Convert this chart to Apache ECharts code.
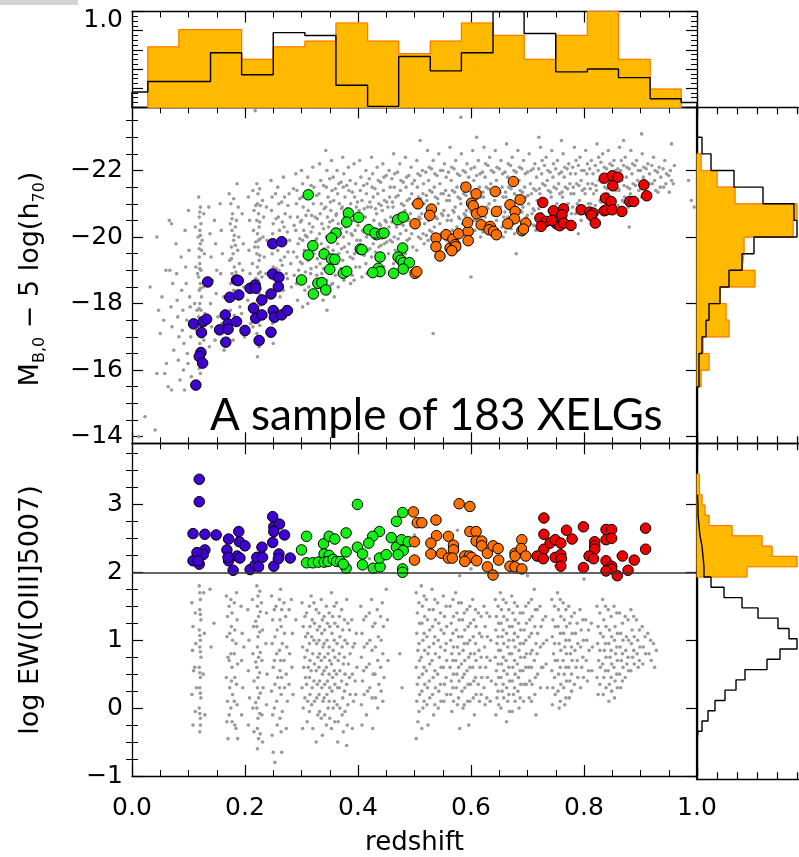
<!DOCTYPE html>
<html>
<head>
<meta charset="utf-8">
<script src="https://cdn.jsdelivr.net/npm/echarts@6/dist/echarts.min.js"></script>
<style>
html, body { margin: 0; padding: 0; background: #fff; }
#chart { width: 799px; height: 857px; }
</style>
</head>
<body>
<div id="chart"></div>
<script>
// ---- histograms (normalised to peak = 1) ----
var zEdges = [0, 0.028, 0.083, 0.139, 0.194, 0.25, 0.306, 0.361, 0.417, 0.472, 0.528, 0.583, 0.639, 0.694, 0.75, 0.806, 0.861, 0.917, 0.972, 1.0];
var zHistAll = [0.16, 0.27, 0.27, 0.57, 0.34, 0.78, 0.75, 0.23, 0.01, 0.53, 0.38, 0.57, 1.0, 0.77, 0.37, 0.40, 0.31, 0.09, 0.05];
var zEdgesX = [0.028, 0.083, 0.139, 0.194, 0.25, 0.306, 0.361, 0.417, 0.472, 0.528, 0.583, 0.639, 0.694, 0.75, 0.806, 0.861, 0.917, 0.972];
var zHistXelg = [0.63, 0.81, 0.81, 0.50, 0.63, 0.69, 0.88, 0.69, 0.56, 0.69, 0.88, 0.75, 0.50, 0.75, 1.0, 0.50, 0.19];

var mEdges = [-23, -22.5, -22, -21.5, -21, -20.5, -20, -19.5, -19, -18.5, -18, -17.5, -17, -16.5, -16, -15.5];
var mHistAll = [0.05, 0.14, 0.37, 0.66, 0.97, 1.0, 0.57, 0.45, 0.32, 0.23, 0.12, 0.09, 0.05, 0.02, 0.02];
var mEdgesX = [-22.5, -22, -21.5, -21, -20.5, -20, -19.5, -19, -18.5, -18, -17.5, -17, -16.5, -16, -15.5];
var mHistXelg = [0.04, 0.20, 0.38, 1.0, 0.96, 0.47, 0.45, 0.58, 0.23, 0.29, 0.32, 0.06, 0.12, 0.04];

var ewEdges = [-0.45, -0.3, -0.15, 0, 0.15, 0.3, 0.45, 0.6, 0.75, 0.9, 1.05, 1.2, 1.35, 1.5, 1.65, 1.8, 1.95, 2.1, 2.25, 2.4, 2.55, 2.7, 2.85, 3.0, 3.15];
var ewHistAll = [0.01, 0.05, 0.11, 0.18, 0.28, 0.39, 0.48, 0.70, 0.83, 1.0, 0.92, 0.81, 0.61, 0.45, 0.27, 0.14, 0.07, 0.06, 0.05, 0.03, 0.02, 0.01, 0.01, 0.005];
var ewEdgesX = [1.95, 2.1, 2.25, 2.4, 2.55, 2.7, 2.85, 3.0, 3.15, 3.3, 3.45];
var ewHistXelg = [0.50, 1.0, 0.75, 0.65, 0.35, 0.12, 0.08, 0.05, 0.025, 0.025];

// ---- axis ticks ----
var mMajor = [-22, -20, -18, -16, -14];
var mMinor = [-23.5, -23, -22.5, -21.5, -21, -20.5, -19.5, -19, -18.5, -17.5, -17, -16.5, -15.5, -15, -14.5];
var ewMajor = [-1, 0, 1, 2, 3];
var ewMinor = [-0.75, -0.5, -0.25, 0.25, 0.5, 0.75, 1.25, 1.5, 1.75, 2.25, 2.5, 2.75, 3.25, 3.5, 3.75];

// ---- parent sample (grey), redshift vs absolute magnitude ----
var greyMag = [
[0.012,-14.0],[0.023,-14.6],[0.041,-14.2],[0.032,-18.5],[0.044,-20.0],[0.047,-17.8],[0.05,-17.1],[0.044,-15.9],[0.061,-16.2],[0.058,-15.9],[0.064,-15.5],[0.056,-17.5],[0.053,-18.2],[0.06,-19.0],
[0.066,-20.5],[0.07,-20.4],[0.067,-19.0],[0.072,-18.6],[0.069,-17.9],[0.071,-17.3],[0.074,-16.6],[0.07,-15.4],[0.078,-19.8],[0.079,-18.9],[0.08,-18.1],[0.081,-17.6],[0.083,-17.0],[0.082,-16.3],[0.085,-15.7],[0.087,-19.4],[0.088,-18.4],[0.09,-17.8],[0.089,-17.2],[0.092,-16.8],[0.091,-16.0],[0.094,-20.2],[0.095,-19.1],[0.096,-18.6],[0.097,-17.5],[0.098,-16.5],[0.1,-20.8],[0.101,-19.6],[0.102,-18.2],[0.103,-17.9],[0.104,-17.0],[0.105,-15.8],[0.099,-16.2],[0.093,-15.4],
[0.118,-21.2],[0.121,-20.9],[0.119,-20.6],[0.122,-20.4],[0.12,-20.2],[0.117,-20.0],[0.121,-19.8],[0.123,-19.6],[0.119,-19.4],[0.12,-19.2],[0.122,-19.0],[0.118,-18.8],[0.121,-18.6],[0.119,-18.4],[0.123,-18.2],[0.12,-18.0],[0.122,-17.8],[0.118,-17.6],[0.121,-17.4],[0.119,-17.2],[0.123,-17.0],[0.12,-16.8],[0.122,-16.5],[0.118,-16.2],[0.121,-15.9],[0.112,-20.3],[0.113,-19.1],[0.111,-18.0],[0.114,-17.2],[0.127,-20.7],[0.128,-19.5],[0.126,-18.5],[0.129,-17.7],[0.127,-16.9],
[0.136,-20.9],[0.138,-20.1],[0.14,-19.4],[0.142,-18.7],[0.139,-18.0],[0.141,-17.3],[0.137,-16.7],[0.146,-20.5],[0.148,-19.8],[0.15,-19.0],[0.149,-18.3],[0.152,-17.6],[0.147,-16.9],[0.156,-21.0],[0.158,-20.2],[0.16,-19.5],[0.157,-18.9],[0.162,-18.2],[0.159,-17.4],[0.163,-16.6],
[0.172,-21.3],[0.175,-21.0],[0.178,-20.7],[0.174,-20.4],[0.177,-20.2],[0.18,-19.9],[0.176,-19.7],[0.179,-19.5],[0.173,-19.3],[0.181,-19.1],[0.177,-18.9],[0.175,-18.6],[0.18,-18.4],[0.178,-18.1],[0.174,-17.8],[0.182,-17.5],[0.176,-17.2],[0.179,-16.9],[0.186,-21.6],[0.188,-20.9],[0.185,-20.5],[0.189,-20.0],[0.187,-19.6],[0.19,-19.2],[0.186,-18.8],[0.188,-18.3],[0.191,-17.9],[0.187,-17.4],[0.195,-20.7],[0.197,-19.8],[0.196,-19.0],[0.198,-18.5],[0.194,-17.7],[0.199,-17.0],
[0.206,-21.2],[0.208,-20.5],[0.207,-19.6],[0.209,-18.9],[0.205,-18.1],[0.21,-17.4],[0.214,-21.4],[0.216,-20.8],[0.215,-20.2],[0.217,-19.7],[0.213,-19.2],[0.218,-18.6],[0.216,-18.0],[0.214,-17.3],[0.221,-21.6],[0.223,-21.3],[0.222,-21.0],[0.224,-20.7],[0.221,-20.5],[0.225,-20.3],[0.222,-20.1],[0.224,-19.9],[0.223,-19.7],[0.221,-19.5],[0.225,-19.3],[0.222,-19.1],[0.224,-18.9],[0.223,-18.7],[0.221,-18.5],[0.225,-18.3],[0.222,-18.1],[0.224,-17.8],[0.223,-17.5],[0.221,-17.1],[0.225,-16.7],[0.222,-16.4],[0.231,-21.1],[0.233,-20.6],[0.232,-20.0],[0.234,-19.4],[0.23,-18.8],[0.235,-18.2],[0.231,-17.6],[0.238,-20.9],[0.239,-19.9],[0.237,-18.9],
[0.246,-21.7],[0.248,-21.2],[0.247,-20.8],[0.25,-20.4],[0.249,-20.1],[0.251,-19.8],[0.248,-19.5],[0.25,-19.1],[0.252,-18.7],[0.247,-18.3],[0.251,-17.9],[0.249,-17.4],[0.25,-16.8],[0.258,-21.5],[0.26,-21.0],[0.259,-20.6],[0.261,-20.2],[0.262,-19.9],[0.258,-19.6],[0.263,-19.3],[0.26,-19.0],[0.259,-18.6],[0.262,-18.2],[0.26,-17.7],[0.268,-21.8],[0.27,-21.2],[0.271,-20.7],[0.269,-20.3],[0.272,-19.9],[0.27,-19.4],[0.273,-18.9],[0.268,-18.4],[0.271,-17.9],[0.278,-21.3],[0.28,-20.6],[0.279,-19.9],[0.281,-19.2],[0.282,-18.5],[0.279,-17.8],
[0.29,-21.9],[0.292,-21.4],[0.291,-21.0],[0.293,-20.6],[0.29,-20.2],[0.294,-19.8],[0.292,-19.4],[0.295,-19.0],[0.291,-18.6],[0.293,-18.1],[0.3,-22.0],[0.302,-21.6],[0.301,-21.2],[0.303,-20.9],[0.3,-20.5],[0.304,-20.2],[0.302,-19.9],[0.305,-19.6],[0.301,-19.2],[0.303,-18.8],[0.306,-18.4],[0.302,-17.9],[0.311,-21.8],[0.313,-21.3],[0.312,-20.8],[0.314,-20.4],[0.31,-20.0],[0.315,-19.7],[0.312,-19.3],[0.316,-18.9],[0.313,-18.5],[0.311,-18.0],[0.32,-22.1],[0.322,-21.5],[0.321,-21.0],[0.324,-20.6],[0.32,-20.3],[0.325,-19.9],[0.322,-19.5],[0.326,-19.1],[0.323,-18.6],[0.321,-18.2],
[0.332,-22.2],[0.334,-21.7],[0.331,-21.3],[0.335,-21.0],[0.333,-20.7],[0.336,-20.4],[0.332,-20.1],[0.335,-19.8],[0.337,-19.5],[0.333,-19.2],[0.336,-18.9],[0.334,-18.5],[0.338,-18.1],[0.343,-22.6],[0.345,-22.0],[0.344,-21.5],[0.347,-21.2],[0.343,-20.9],[0.346,-20.6],[0.348,-20.3],[0.344,-20.0],[0.347,-19.7],[0.345,-19.4],[0.349,-19.1],[0.344,-18.7],[0.347,-18.3],[0.345,-17.8],[0.353,-22.3],[0.356,-21.8],[0.354,-21.4],[0.357,-21.1],[0.352,-20.8],[0.355,-20.5],[0.358,-20.2],[0.354,-19.9],[0.356,-19.6],[0.353,-19.3],[0.357,-19.0],[0.355,-18.6],[0.358,-18.2],[0.363,-22.0],[0.366,-21.6],[0.364,-21.3],[0.367,-21.0],[0.362,-20.7],[0.365,-20.4],[0.368,-20.1],[0.364,-19.8],[0.366,-19.5],[0.363,-19.2],[0.367,-18.9],[0.365,-18.5],[0.373,-22.4],[0.375,-21.9],[0.374,-21.5],[0.377,-21.2],[0.372,-20.9],[0.376,-20.6],[0.378,-20.3],[0.374,-20.0],[0.376,-19.7],[0.373,-19.3],[0.377,-19.0],[0.375,-18.7],[0.383,-22.1],[0.386,-21.7],[0.384,-21.4],[0.387,-21.0],[0.382,-20.7],[0.385,-20.4],[0.388,-20.1],[0.384,-19.8],[0.386,-19.4],[0.383,-19.0],[0.387,-18.6],[0.393,-22.2],[0.396,-21.6],[0.394,-21.2],[0.397,-20.9],[0.392,-20.5],[0.395,-20.2],[0.398,-19.9],[0.394,-19.5],[0.396,-19.1],[0.393,-18.7],
[0.403,-22.3],[0.405,-21.8],[0.404,-21.4],[0.407,-21.1],[0.402,-20.8],[0.406,-20.5],[0.408,-20.2],[0.404,-19.9],[0.406,-19.5],[0.403,-19.1],[0.407,-18.8],[0.414,-22.0],[0.416,-21.6],[0.415,-21.3],[0.417,-20.9],[0.413,-20.6],[0.418,-20.3],[0.415,-20.0],[0.417,-19.6],[0.414,-19.2],[0.416,-18.9],[0.424,-22.4],[0.426,-21.9],[0.425,-21.5],[0.427,-21.2],[0.423,-20.9],[0.428,-20.5],[0.425,-20.2],[0.427,-19.8],[0.424,-19.4],[0.426,-19.0],[0.434,-22.1],[0.436,-21.7],[0.435,-21.3],[0.437,-21.0],[0.433,-20.7],[0.438,-20.4],[0.435,-20.0],[0.437,-19.7],[0.434,-19.3],[0.444,-22.2],[0.446,-21.8],[0.445,-21.4],[0.447,-21.1],[0.443,-20.8],[0.448,-20.5],[0.445,-20.2],[0.447,-19.8],[0.444,-19.5],[0.446,-19.1],[0.455,-22.0],[0.457,-21.5],[0.456,-21.2],[0.453,-20.9],[0.458,-20.6],[0.455,-20.3],[0.457,-19.9],[0.454,-19.5],
[0.463,-22.5],[0.465,-21.9],[0.464,-21.5],[0.467,-21.2],[0.462,-20.9],[0.466,-20.6],[0.468,-20.3],[0.464,-20.0],[0.466,-19.6],[0.463,-19.2],[0.474,-22.2],[0.476,-21.7],[0.475,-21.4],[0.477,-21.0],[0.473,-20.7],[0.478,-20.4],[0.475,-20.1],[0.477,-19.7],[0.474,-19.4],[0.484,-22.4],[0.486,-21.8],[0.485,-21.5],[0.487,-21.1],[0.483,-20.8],[0.488,-20.5],[0.485,-20.2],[0.487,-19.9],[0.484,-19.5],[0.494,-22.1],[0.496,-21.6],[0.495,-21.3],[0.497,-21.0],[0.493,-20.7],[0.498,-20.4],[0.495,-20.1],[0.497,-19.7],[0.504,-22.3],[0.506,-21.9],[0.505,-21.5],[0.507,-21.2],[0.503,-20.9],[0.508,-20.6],[0.505,-20.3],[0.507,-20.0],[0.504,-19.6],[0.514,-22.0],[0.516,-21.6],[0.515,-21.3],[0.517,-21.0],[0.513,-20.7],[0.518,-20.4],[0.515,-20.1],[0.517,-19.8],
[0.523,-22.6],[0.526,-22.1],[0.525,-21.7],[0.527,-21.4],[0.522,-21.1],[0.528,-20.8],[0.525,-20.5],[0.527,-20.2],[0.524,-19.9],[0.533,-22.3],[0.536,-21.9],[0.535,-21.5],[0.537,-21.2],[0.532,-20.9],[0.538,-20.6],[0.535,-20.3],[0.537,-20.0],[0.534,-19.7],[0.543,-22.5],[0.546,-22.0],[0.545,-21.6],[0.547,-21.3],[0.542,-21.0],[0.548,-20.7],[0.545,-20.4],[0.547,-20.1],[0.544,-19.8],[0.553,-22.2],[0.556,-21.8],[0.555,-21.4],[0.557,-21.1],[0.552,-20.8],[0.558,-20.5],[0.555,-20.2],[0.557,-19.9],[0.563,-22.7],[0.566,-22.1],[0.565,-21.7],[0.567,-21.4],[0.562,-21.1],[0.568,-20.8],[0.565,-20.5],[0.567,-20.2],[0.564,-19.9],[0.573,-22.3],[0.576,-21.9],[0.575,-21.5],[0.577,-21.2],[0.572,-20.9],[0.578,-20.6],[0.575,-20.3],[0.577,-20.0],[0.583,-22.5],[0.586,-22.0],[0.585,-21.6],[0.587,-21.3],[0.582,-21.0],[0.588,-20.7],[0.585,-20.4],[0.587,-20.1],[0.593,-22.2],[0.596,-21.8],[0.595,-21.4],[0.597,-21.1],[0.592,-20.8],[0.598,-20.5],[0.595,-20.2],[0.603,-22.6],[0.606,-22.1],[0.605,-21.7],[0.607,-21.4],[0.602,-21.1],[0.608,-20.8],[0.605,-20.5],[0.607,-20.2],[0.613,-22.3],[0.616,-21.9],[0.615,-21.5],[0.617,-21.2],[0.612,-20.9],[0.618,-20.6],[0.615,-20.3],[0.617,-20.0],
[0.623,-22.7],[0.626,-22.2],[0.625,-21.8],[0.627,-21.5],[0.622,-21.2],[0.628,-20.9],[0.625,-20.6],[0.627,-20.3],[0.633,-22.4],[0.636,-22.0],[0.635,-21.6],[0.637,-21.3],[0.632,-21.0],[0.638,-20.7],[0.635,-20.4],[0.637,-20.1],[0.643,-22.6],[0.646,-22.1],[0.645,-21.7],[0.647,-21.4],[0.642,-21.1],[0.648,-20.8],[0.645,-20.5],[0.647,-20.2],[0.653,-22.3],[0.656,-21.9],[0.655,-21.5],[0.657,-21.2],[0.652,-20.9],[0.658,-20.6],[0.655,-20.3],[0.657,-20.0],[0.663,-22.8],[0.666,-22.2],[0.665,-21.8],[0.667,-21.5],[0.662,-21.2],[0.668,-20.9],[0.665,-20.6],[0.667,-20.3],[0.673,-22.4],[0.676,-22.0],[0.675,-21.6],[0.677,-21.3],[0.672,-21.0],[0.678,-20.7],[0.675,-20.4],[0.677,-20.1],[0.683,-22.6],[0.686,-22.1],[0.685,-21.7],[0.687,-21.4],[0.682,-21.1],[0.688,-20.8],[0.685,-20.5],[0.693,-22.3],[0.696,-21.9],[0.695,-21.5],[0.697,-21.2],[0.692,-20.9],[0.698,-20.6],[0.695,-20.3],[0.703,-22.5],[0.706,-22.0],[0.705,-21.6],[0.707,-21.3],[0.702,-21.0],[0.708,-20.7],[0.705,-20.4],[0.713,-22.2],[0.716,-21.8],[0.715,-21.4],[0.717,-21.1],[0.712,-20.8],[0.718,-20.5],[0.715,-20.2],
[0.723,-22.7],[0.726,-22.3],[0.725,-21.9],[0.727,-21.6],[0.722,-21.3],[0.728,-21.0],[0.725,-20.7],[0.727,-20.4],[0.733,-22.4],[0.736,-22.0],[0.735,-21.7],[0.737,-21.4],[0.732,-21.1],[0.738,-20.8],[0.735,-20.5],[0.743,-22.6],[0.746,-22.2],[0.745,-21.8],[0.747,-21.5],[0.742,-21.2],[0.748,-20.9],[0.745,-20.6],[0.753,-22.3],[0.756,-21.9],[0.755,-21.6],[0.757,-21.3],[0.752,-21.0],[0.758,-20.7],[0.755,-20.4],[0.763,-22.5],[0.766,-22.1],[0.765,-21.8],[0.767,-21.5],[0.762,-21.2],[0.768,-20.9],[0.765,-20.6],[0.773,-22.2],[0.776,-21.9],[0.775,-21.6],[0.777,-21.3],[0.772,-21.0],[0.778,-20.7],[0.775,-20.4],[0.783,-22.7],[0.786,-22.3],[0.785,-21.9],[0.787,-21.6],[0.782,-21.3],[0.788,-21.0],[0.785,-20.7],[0.793,-22.4],[0.796,-22.0],[0.795,-21.7],[0.797,-21.4],[0.792,-21.1],[0.798,-20.8],[0.795,-20.5],[0.803,-22.6],[0.806,-22.2],[0.805,-21.9],[0.807,-21.6],[0.802,-21.3],[0.808,-21.0],[0.805,-20.7],[0.813,-22.3],[0.816,-21.9],[0.815,-21.6],[0.817,-21.3],[0.812,-21.0],[0.818,-20.7],
[0.823,-22.8],[0.826,-22.4],[0.825,-22.0],[0.827,-21.7],[0.822,-21.4],[0.828,-21.1],[0.825,-20.8],[0.833,-22.5],[0.836,-22.1],[0.835,-21.8],[0.837,-21.5],[0.832,-21.2],[0.838,-20.9],[0.843,-22.6],[0.846,-22.2],[0.845,-21.9],[0.847,-21.6],[0.842,-21.3],[0.848,-21.0],[0.853,-22.3],[0.856,-22.0],[0.855,-21.7],[0.857,-21.4],[0.852,-21.1],[0.858,-20.8],[0.863,-22.7],[0.866,-22.3],[0.865,-22.0],[0.867,-21.7],[0.862,-21.4],[0.868,-21.1],[0.873,-22.4],[0.876,-22.1],[0.875,-21.8],[0.877,-21.5],[0.872,-21.2],[0.878,-20.9],[0.883,-22.6],[0.886,-22.2],[0.885,-21.9],[0.887,-21.6],[0.882,-21.3],[0.893,-22.3],[0.896,-22.0],[0.895,-21.7],[0.897,-21.4],[0.892,-21.1],[0.903,-22.5],[0.906,-22.1],[0.905,-21.8],[0.907,-21.5],[0.902,-21.2],[0.913,-22.2],[0.916,-21.9],[0.915,-21.6],[0.917,-21.3],[0.923,-22.4],[0.926,-22.0],[0.925,-21.7],[0.927,-21.4],[0.933,-22.1],[0.936,-21.8],[0.935,-21.5],[0.943,-22.3],[0.946,-21.9],[0.945,-21.6],[0.953,-22.0],[0.955,-21.7],
[0.218,-23.8],[0.582,-23.6],[0.533,-17.1],[0.6,-18.8],[0.68,-19.5],[0.88,-20.3],[0.79,-20.1],[0.902,-23.1],[0.955,-22.8],[0.985,-21.7],[0.99,-21.1],[0.995,-20.9],[0.51,-22.9],[0.61,-23.0],[0.72,-23.0],[0.76,-22.9],[0.87,-22.9]
];
// denser core of the same cloud
var greyMagCore = [
[0.120,-20.75],[0.121,-20.05],[0.119,-19.65],[0.12,-19.05],[0.121,-18.45],[0.119,-17.85],[0.12,-17.3],[0.121,-16.65],[0.119,-16.05],[0.124,-19.9],[0.116,-18.9],[0.115,-17.8],[0.124,-17.1],
[0.18,-21.15],[0.177,-20.55],[0.181,-20.05],[0.176,-19.35],[0.18,-18.75],[0.177,-18.25],[0.181,-17.65],[0.183,-19.75],[0.184,-18.95],[0.183,-20.3],
[0.226,-21.45],[0.227,-20.95],[0.226,-20.45],[0.227,-19.95],[0.226,-19.45],[0.227,-18.95],[0.226,-18.45],[0.227,-17.95],[0.226,-17.35],[0.219,-20.95],[0.219,-19.85],[0.219,-18.75],[0.219,-17.65],
[0.254,-21.3],[0.255,-20.55],[0.254,-19.75],[0.255,-19.05],[0.254,-18.35],[0.265,-21.05],[0.266,-20.45],[0.265,-19.75],[0.266,-19.15],[0.265,-18.45],[0.276,-20.95],[0.275,-20.15],[0.276,-19.55],[0.275,-18.75],[0.286,-21.45],[0.287,-20.35],[0.286,-19.55],[0.287,-18.85],
[0.297,-21.15],[0.298,-20.45],[0.297,-19.95],[0.298,-19.25],[0.297,-18.75],[0.307,-21.35],[0.308,-20.65],[0.307,-20.05],[0.308,-19.45],[0.307,-18.95],[0.317,-21.55],[0.318,-20.65],[0.317,-20.15],[0.318,-19.55],[0.317,-19.05],[0.327,-21.25],[0.328,-20.55],[0.327,-19.95],[0.328,-19.35],[0.327,-18.85],
[0.339,-21.55],[0.34,-20.85],[0.339,-20.25],[0.34,-19.65],[0.339,-19.05],[0.34,-18.45],[0.35,-21.75],[0.351,-21.05],[0.35,-20.45],[0.351,-19.85],[0.35,-19.25],[0.351,-18.55],[0.36,-21.45],[0.361,-20.65],[0.36,-20.05],[0.361,-19.45],[0.36,-18.85],[0.37,-21.65],[0.371,-20.85],[0.37,-20.25],[0.371,-19.65],[0.37,-19.05],[0.38,-21.55],[0.381,-20.85],[0.38,-20.15],[0.381,-19.55],[0.38,-18.95],[0.39,-21.35],[0.391,-20.65],[0.39,-20.05],[0.391,-19.35],[0.39,-18.85],[0.399,-21.05],[0.4,-20.35],[0.399,-19.65],
[0.41,-21.55],[0.411,-20.85],[0.41,-20.15],[0.411,-19.45],[0.42,-21.75],[0.421,-21.05],[0.42,-20.35],[0.421,-19.65],[0.43,-21.45],[0.431,-20.85],[0.43,-20.15],[0.431,-19.55],[0.44,-21.65],[0.441,-20.95],[0.44,-20.35],[0.441,-19.75],[0.45,-21.85],[0.451,-21.05],[0.45,-20.45],[0.451,-19.85],
[0.46,-21.75],[0.461,-21.05],[0.46,-20.45],[0.461,-19.85],[0.47,-21.95],[0.471,-21.25],[0.47,-20.55],[0.471,-19.95],[0.48,-21.65],[0.481,-20.95],[0.48,-20.35],[0.49,-21.85],[0.491,-21.15],[0.49,-20.55],[0.491,-19.95],[0.5,-21.7],[0.501,-21.05],[0.5,-20.45],[0.51,-21.85],[0.511,-21.15],[0.51,-20.55],[0.511,-19.95],
[0.52,-21.95],[0.521,-21.25],[0.52,-20.65],[0.521,-20.05],[0.53,-22.05],[0.531,-21.35],[0.53,-20.75],[0.531,-20.15],[0.54,-21.85],[0.541,-21.15],[0.54,-20.55],[0.541,-19.95],[0.55,-22.0],[0.551,-21.3],[0.55,-20.65],[0.551,-20.05],[0.56,-21.95],[0.561,-21.25],[0.56,-20.65],[0.561,-20.05],[0.57,-22.05],[0.571,-21.35],[0.57,-20.75],[0.571,-20.15],[0.58,-21.85],[0.581,-21.15],[0.58,-20.55],[0.59,-21.95],[0.591,-21.25],[0.59,-20.65],[0.591,-20.05],[0.6,-22.05],[0.601,-21.35],[0.6,-20.75],[0.601,-20.15],[0.61,-21.85],[0.611,-21.15],[0.61,-20.5],
[0.62,-21.95],[0.621,-21.35],[0.62,-20.75],[0.621,-20.15],[0.63,-22.15],[0.631,-21.45],[0.63,-20.85],[0.631,-20.25],[0.64,-21.95],[0.641,-21.25],[0.64,-20.65],[0.65,-22.05],[0.651,-21.35],[0.65,-20.75],[0.651,-20.15],[0.66,-21.95],[0.661,-21.35],[0.66,-20.75],[0.661,-20.15],[0.67,-22.15],[0.671,-21.45],[0.67,-20.85],[0.671,-20.25],[0.68,-21.95],[0.681,-21.25],[0.68,-20.65],[0.69,-22.05],[0.691,-21.35],[0.69,-20.75],[0.691,-20.15],[0.7,-21.95],[0.701,-21.25],[0.7,-20.65],[0.71,-22.05],[0.711,-21.45],[0.71,-20.85],[0.711,-20.35],
[0.72,-22.05],[0.721,-21.45],[0.72,-20.85],[0.721,-20.35],[0.73,-22.15],[0.731,-21.55],[0.73,-20.95],[0.731,-20.35],[0.74,-21.95],[0.741,-21.35],[0.74,-20.75],[0.75,-22.05],[0.751,-21.45],[0.75,-20.85],[0.751,-20.35],[0.76,-21.95],[0.761,-21.35],[0.76,-20.75],[0.77,-22.05],[0.771,-21.45],[0.77,-20.85],[0.78,-22.1],[0.781,-21.5],[0.78,-20.9],[0.79,-22.15],[0.791,-21.55],[0.79,-20.95],[0.8,-22.0],[0.801,-21.45],[0.8,-20.9],[0.81,-22.05],[0.811,-21.45],[0.81,-20.85],
[0.82,-22.15],[0.821,-21.55],[0.82,-20.95],[0.83,-22.25],[0.831,-21.65],[0.83,-21.05],[0.84,-22.05],[0.841,-21.45],[0.84,-20.85],[0.85,-22.15],[0.851,-21.55],[0.85,-20.95],[0.86,-22.05],[0.861,-21.45],[0.86,-20.95],[0.87,-22.15],[0.871,-21.55],[0.87,-21.05],[0.88,-22.05],[0.881,-21.45],[0.89,-22.15],[0.891,-21.55],[0.89,-21.0],[0.9,-22.0],[0.901,-21.45],[0.91,-22.05],[0.911,-21.5],[0.92,-22.15],[0.921,-21.6],[0.93,-21.95],[0.931,-21.35],[0.94,-22.05],[0.941,-21.5],[0.95,-21.85],[0.951,-21.35],[0.96,-22.15],[0.958,-21.6]
];

// ---- parent sample (grey), redshift vs log EW([OIII]) ----
var greyEw = [
[0.106,1.55],[0.108,1.2],[0.107,0.85],[0.109,0.55],[0.106,0.2],[0.108,-0.25],[0.112,1.4],[0.113,0.95],[0.111,0.6],[0.114,0.3],[0.112,-0.05],[0.119,1.8],[0.121,1.6],[0.12,1.45],[0.122,1.3],[0.119,1.15],[0.121,1.0],[0.12,0.9],[0.122,0.75],[0.119,0.6],[0.121,0.45],[0.12,0.3],[0.122,0.15],[0.119,0.0],[0.121,-0.15],[0.12,-0.35],[0.127,1.7],[0.128,1.1],[0.126,0.5],[0.129,-0.1],[0.138,1.75],[0.145,1.25],[0.14,0.9],
[0.167,1.65],[0.169,1.35],[0.168,1.05],[0.17,0.75],[0.167,0.45],[0.169,0.1],[0.168,-0.2],[0.17,-0.45],[0.175,1.6],[0.177,1.4],[0.176,1.2],[0.178,1.0],[0.175,0.8],[0.177,0.6],[0.176,0.4],[0.178,0.2],[0.175,0.0],[0.177,-0.2],[0.185,1.7],[0.186,1.3],[0.184,0.95],[0.187,0.65],[0.185,0.35],[0.186,0.05],[0.184,-0.3],[0.187,-0.45],[0.193,1.5],[0.195,1.1],[0.194,0.7],[0.196,0.3],[0.194,-0.1],[0.198,0.9],
[0.205,1.45],[0.207,1.0],[0.206,0.55],[0.208,0.15],[0.206,-0.25],[0.213,1.6],[0.215,1.2],[0.214,0.8],[0.216,0.4],[0.214,0.0],[0.216,-0.35],[0.221,1.8],[0.223,1.65],[0.222,1.5],[0.224,1.35],[0.221,1.2],[0.223,1.05],[0.222,0.9],[0.224,0.75],[0.221,0.6],[0.223,0.45],[0.222,0.3],[0.224,0.15],[0.221,0.0],[0.223,-0.15],[0.222,-0.3],[0.224,-0.45],[0.222,-0.6],[0.229,1.55],[0.231,1.15],[0.23,0.7],[0.232,0.3],[0.23,-0.1],[0.231,-0.5],[0.238,1.4],[0.237,0.95],[0.239,0.5],[0.238,0.05],
[0.247,1.65],[0.249,1.3],[0.248,0.95],[0.25,0.6],[0.247,0.25],[0.249,-0.1],[0.248,-0.4],[0.25,-0.65],[0.255,1.5],[0.257,1.15],[0.256,0.8],[0.258,0.45],[0.256,0.1],[0.257,-0.25],[0.253,-0.8],[0.263,1.75],[0.265,1.45],[0.264,1.2],[0.266,0.95],[0.263,0.7],[0.265,0.45],[0.264,0.2],[0.266,-0.05],[0.264,-0.35],[0.272,1.35],[0.274,0.9],[0.273,0.5],[0.275,0.1],[0.273,-0.3],[0.282,1.6],[0.284,1.1],[0.283,0.6],[0.285,0.2],[0.29,1.3],
[0.301,1.55],[0.303,1.2],[0.302,0.9],[0.304,0.6],[0.301,0.3],[0.303,0.0],[0.302,-0.3],[0.309,1.4],[0.311,1.1],[0.31,0.85],[0.312,0.6],[0.309,0.35],[0.311,0.1],[0.31,-0.2],[0.317,1.65],[0.319,1.3],[0.318,1.05],[0.32,0.8],[0.317,0.55],[0.319,0.3],[0.318,0.05],[0.32,-0.3],[0.326,1.45],[0.328,1.15],[0.327,0.95],[0.329,0.75],[0.326,0.55],[0.328,0.35],[0.327,0.15],[0.329,-0.1],[0.326,-0.5],[0.335,1.6],[0.337,1.3],[0.336,1.1],[0.338,0.9],[0.335,0.7],[0.337,0.5],[0.336,0.3],[0.338,0.1],[0.335,-0.15],[0.337,-0.4],[0.344,1.5],[0.346,1.25],[0.345,1.0],[0.347,0.8],[0.344,0.6],[0.346,0.4],[0.345,0.2],[0.347,0.0],[0.344,-0.25],[0.353,1.7],[0.355,1.35],[0.354,1.1],[0.356,0.85],[0.353,0.65],[0.355,0.45],[0.354,0.25],[0.356,0.0],[0.353,-0.3],[0.362,1.55],[0.364,1.2],[0.363,0.95],[0.365,0.7],[0.362,0.5],[0.364,0.3],[0.363,0.05],[0.365,-0.2],[0.364,-0.5],[0.371,1.45],[0.373,1.15],[0.372,0.9],[0.374,0.65],[0.371,0.4],[0.373,0.15],[0.372,-0.1],[0.374,-0.35],[0.38,1.6],[0.382,1.25],[0.381,0.95],[0.383,0.65],[0.38,0.35],[0.382,0.05],[0.381,-0.25],[0.389,1.3],[0.391,0.9],[0.39,0.5],[0.392,0.1],[0.39,-0.3],[0.397,1.1],[0.398,0.6],[0.396,0.2],
[0.405,1.5],[0.407,1.1],[0.406,0.75],[0.408,0.4],[0.406,0.05],[0.407,-0.25],[0.414,1.35],[0.416,0.95],[0.415,0.6],[0.417,0.25],[0.415,-0.1],[0.424,1.6],[0.426,1.2],[0.425,0.85],[0.427,0.5],[0.425,0.15],[0.426,-0.3],[0.434,1.45],[0.436,1.05],[0.435,0.7],[0.437,0.35],[0.435,0.0],[0.443,1.55],[0.445,1.2],[0.444,0.8],[0.446,0.45],[0.444,0.1],[0.452,1.3],[0.453,0.7],
[0.503,1.7],[0.505,1.4],[0.504,1.1],[0.506,0.85],[0.503,0.6],[0.505,0.35],[0.504,0.1],[0.506,-0.2],[0.503,-0.45],[0.512,1.8],[0.514,1.5],[0.513,1.25],[0.515,1.0],[0.512,0.75],[0.514,0.5],[0.513,0.25],[0.515,0.0],[0.513,-0.3],[0.521,1.6],[0.523,1.3],[0.522,1.05],[0.524,0.8],[0.521,0.55],[0.523,0.3],[0.522,0.05],[0.524,-0.25],[0.531,1.75],[0.533,1.45],[0.532,1.2],[0.534,0.95],[0.531,0.7],[0.533,0.45],[0.532,0.2],[0.534,-0.1],[0.541,1.55],[0.543,1.25],[0.542,1.0],[0.544,0.75],[0.541,0.5],[0.543,0.25],[0.542,0.0],[0.551,1.65],[0.553,1.35],[0.552,1.1],[0.554,0.85],[0.551,0.6],[0.553,0.35],[0.552,0.1],
[0.563,1.5],[0.565,1.25],[0.564,1.0],[0.566,0.8],[0.563,0.6],[0.565,0.4],[0.564,0.2],[0.566,-0.05],[0.573,1.7],[0.575,1.4],[0.574,1.15],[0.576,0.9],[0.573,0.7],[0.575,0.5],[0.574,0.3],[0.576,0.05],[0.583,1.55],[0.585,1.3],[0.584,1.05],[0.586,0.85],[0.583,0.65],[0.585,0.45],[0.584,0.25],[0.586,0.0],[0.593,1.45],[0.595,1.2],[0.594,0.95],[0.596,0.75],[0.593,0.55],[0.595,0.35],[0.594,0.1],[0.596,-0.25],[0.603,1.6],[0.605,1.3],[0.604,1.05],[0.606,0.8],[0.603,0.6],[0.605,0.4],[0.604,0.15],[0.606,-0.1],[0.613,1.4],[0.615,1.1],[0.614,0.85],[0.616,0.6],[0.613,0.35],[0.615,0.1],[0.623,1.5],[0.625,1.2],[0.624,0.9],[0.626,0.6],[0.623,0.3],[0.625,0.05],[0.633,1.35],[0.635,1.0],[0.634,0.7],[0.636,0.4],[0.634,0.1],
[0.643,1.6],[0.645,1.35],[0.644,1.15],[0.646,0.95],[0.643,0.75],[0.645,0.55],[0.644,0.35],[0.646,0.15],[0.644,-0.1],[0.652,1.7],[0.654,1.45],[0.653,1.25],[0.655,1.05],[0.652,0.85],[0.654,0.65],[0.653,0.45],[0.655,0.25],[0.653,0.0],[0.662,1.55],[0.664,1.3],[0.663,1.1],[0.665,0.9],[0.662,0.7],[0.664,0.5],[0.663,0.3],[0.665,0.1],[0.663,-0.2],[0.672,1.65],[0.674,1.4],[0.673,1.2],[0.675,1.0],[0.672,0.8],[0.674,0.6],[0.673,0.4],[0.675,0.2],[0.673,-0.05],[0.682,1.5],[0.684,1.25],[0.683,1.05],[0.685,0.85],[0.682,0.65],[0.684,0.45],[0.683,0.25],[0.685,0.0],[0.692,1.4],[0.694,1.15],[0.693,0.95],[0.695,0.75],[0.692,0.55],[0.694,0.35],[0.693,0.1],[0.702,1.55],[0.704,1.3],[0.703,1.05],[0.705,0.8],[0.702,0.6],[0.704,0.4],[0.703,0.15],[0.712,1.75],[0.714,1.45],[0.713,1.2],[0.715,0.95],[0.712,0.7],[0.714,0.45],[0.713,0.2],[0.715,-0.1],[0.722,1.5],[0.724,1.2],[0.723,0.9],[0.725,0.6],[0.723,0.3],[0.732,1.35],[0.734,1.0],[0.733,0.65],[0.735,0.3],
[0.743,1.6],[0.745,1.3],[0.744,1.05],[0.746,0.8],[0.743,0.55],[0.745,0.3],[0.744,0.05],[0.753,1.7],[0.755,1.45],[0.754,1.2],[0.756,0.95],[0.753,0.7],[0.755,0.5],[0.754,0.25],[0.756,0.0],[0.763,1.55],[0.765,1.3],[0.764,1.1],[0.766,0.9],[0.763,0.7],[0.765,0.5],[0.764,0.3],[0.766,0.05],[0.773,1.5],[0.775,1.25],[0.774,1.0],[0.776,0.8],[0.773,0.6],[0.775,0.4],[0.774,0.15],[0.783,1.4],[0.785,1.1],[0.784,0.85],[0.786,0.6],[0.783,0.35],[0.793,1.45],[0.795,1.15],[0.794,0.9],[0.796,0.6],[0.794,0.3],[0.803,1.3],[0.805,1.0],[0.804,0.7],[0.806,0.4],[0.813,1.25],[0.815,0.9],[0.814,0.55],
[0.823,1.5],[0.825,1.2],[0.824,0.95],[0.826,0.7],[0.823,0.45],[0.825,0.2],[0.833,1.6],[0.835,1.3],[0.834,1.05],[0.836,0.85],[0.833,0.65],[0.835,0.45],[0.834,0.2],[0.843,1.45],[0.845,1.15],[0.844,0.95],[0.846,0.75],[0.843,0.55],[0.845,0.35],[0.844,0.1],[0.853,1.5],[0.855,1.2],[0.854,1.0],[0.856,0.8],[0.853,0.6],[0.855,0.4],[0.854,0.15],[0.863,1.4],[0.865,1.1],[0.864,0.9],[0.866,0.7],[0.863,0.5],[0.865,0.3],[0.873,1.35],[0.875,1.05],[0.874,0.85],[0.876,0.65],[0.873,0.45],[0.883,1.45],[0.885,1.15],[0.884,0.95],[0.886,0.75],[0.883,0.55],[0.893,1.3],[0.895,1.0],[0.894,0.8],[0.896,0.6],[0.903,1.2],[0.905,0.9],[0.904,0.65],[0.913,1.1],[0.915,0.8],[0.923,0.95],[0.925,0.6],
[0.265,-0.65],[0.38,-0.55],[0.58,-0.3],[0.45,1.75],[0.474,0.8],[0.478,0.3],[0.5,2.55],[0.576,2.62],[0.42,2.2],[0.48,2.1],[0.6,2.05],[0.75,2.1],[0.82,2.2],[0.86,2.25],[0.58,1.95],[0.64,1.92],[0.7,1.95],[0.8,1.9],[0.67,2.05],[0.72,2.2]
];
var greyEwCore = [
[0.12,1.7],[0.121,1.38],[0.12,1.07],[0.121,0.83],[0.12,0.52],[0.121,0.22],[0.12,-0.08],[0.121,-0.25],
[0.172,1.5],[0.173,1.1],[0.172,0.7],[0.173,0.3],[0.172,-0.1],[0.181,1.55],[0.182,1.15],[0.181,0.8],[0.182,0.45],[0.181,0.1],[0.182,-0.25],
[0.226,1.72],[0.227,1.42],[0.226,1.12],[0.227,0.82],[0.226,0.52],[0.227,0.22],[0.226,-0.08],[0.227,-0.38],[0.219,1.28],[0.219,0.68],[0.219,0.08],
[0.252,1.45],[0.253,1.05],[0.252,0.7],[0.253,0.35],[0.252,0.0],[0.261,1.6],[0.262,1.3],[0.261,0.85],[0.262,0.55],[0.261,0.3],[0.262,-0.15],[0.269,1.55],[0.27,1.1],[0.269,0.7],[0.27,0.3],[0.278,1.45],[0.279,0.8],[0.278,0.35],
[0.306,1.35],[0.307,1.05],[0.306,0.75],[0.307,0.45],[0.306,0.15],[0.314,1.5],[0.315,1.2],[0.314,0.95],[0.315,0.7],[0.314,0.45],[0.315,0.2],[0.314,-0.05],[0.322,1.55],[0.323,1.25],[0.322,1.0],[0.323,0.65],[0.322,0.4],[0.323,0.1],[0.331,1.4],[0.332,1.2],[0.331,1.0],[0.332,0.8],[0.331,0.6],[0.332,0.4],[0.331,0.2],[0.332,-0.05],[0.34,1.35],[0.341,1.15],[0.34,0.95],[0.341,0.75],[0.34,0.55],[0.341,0.35],[0.34,0.15],[0.341,-0.1],[0.349,1.4],[0.35,1.2],[0.349,0.9],[0.35,0.7],[0.349,0.5],[0.35,0.3],[0.349,0.1],[0.35,-0.15],[0.358,1.5],[0.359,1.25],[0.358,1.0],[0.359,0.75],[0.358,0.55],[0.359,0.35],[0.358,0.1],[0.359,-0.2],[0.367,1.35],[0.368,1.05],[0.367,0.8],[0.368,0.55],[0.367,0.3],[0.368,0.0],[0.376,1.3],[0.377,1.0],[0.376,0.75],[0.377,0.5],[0.376,0.25],[0.377,-0.05],[0.385,1.15],[0.386,0.8],[0.385,0.45],[0.386,0.2],[0.394,0.95],[0.395,0.4],
[0.41,1.3],[0.411,0.9],[0.41,0.55],[0.411,0.2],[0.42,1.4],[0.421,1.0],[0.42,0.65],[0.421,0.3],[0.43,1.25],[0.431,0.9],[0.43,0.5],[0.431,0.15],[0.44,1.35],[0.441,1.0],[0.44,0.6],[0.441,0.25],
[0.508,1.55],[0.509,1.25],[0.508,0.95],[0.509,0.7],[0.508,0.45],[0.509,0.2],[0.508,-0.05],[0.517,1.65],[0.518,1.35],[0.517,1.1],[0.518,0.85],[0.517,0.6],[0.518,0.35],[0.517,0.1],[0.526,1.45],[0.527,1.15],[0.526,0.9],[0.527,0.65],[0.526,0.4],[0.527,0.15],[0.536,1.6],[0.537,1.3],[0.536,1.05],[0.537,0.8],[0.536,0.55],[0.537,0.3],[0.536,0.05],[0.546,1.4],[0.547,1.15],[0.546,0.9],[0.547,0.6],[0.546,0.35],[0.547,0.1],[0.556,1.5],[0.557,1.2],[0.556,0.95],[0.557,0.7],[0.556,0.45],[0.557,0.2],
[0.568,1.6],[0.569,1.35],[0.568,1.1],[0.569,0.9],[0.568,0.7],[0.569,0.5],[0.568,0.3],[0.569,0.1],[0.578,1.55],[0.579,1.3],[0.578,1.05],[0.579,0.8],[0.578,0.6],[0.579,0.4],[0.578,0.15],[0.588,1.4],[0.589,1.15],[0.588,0.95],[0.589,0.7],[0.588,0.5],[0.589,0.3],[0.588,0.05],[0.598,1.5],[0.599,1.25],[0.598,1.0],[0.599,0.8],[0.598,0.6],[0.599,0.35],[0.598,0.1],[0.608,1.45],[0.609,1.2],[0.608,0.95],[0.609,0.7],[0.608,0.45],[0.609,0.2],[0.618,1.35],[0.619,1.05],[0.618,0.75],[0.619,0.45],[0.618,0.2],[0.628,1.4],[0.629,1.05],[0.628,0.75],[0.629,0.45],[0.628,0.15],
[0.648,1.5],[0.649,1.25],[0.648,1.05],[0.649,0.85],[0.648,0.65],[0.649,0.45],[0.648,0.25],[0.649,0.05],[0.657,1.6],[0.658,1.35],[0.657,1.15],[0.658,0.95],[0.657,0.75],[0.658,0.55],[0.657,0.35],[0.658,0.15],[0.667,1.45],[0.668,1.2],[0.667,1.0],[0.668,0.8],[0.667,0.6],[0.668,0.4],[0.667,0.2],[0.668,-0.05],[0.677,1.55],[0.678,1.3],[0.677,1.1],[0.678,0.9],[0.677,0.7],[0.678,0.5],[0.677,0.3],[0.678,0.1],[0.687,1.4],[0.688,1.15],[0.687,0.95],[0.688,0.75],[0.687,0.55],[0.688,0.35],[0.687,0.15],[0.697,1.5],[0.698,1.25],[0.697,1.0],[0.698,0.8],[0.697,0.6],[0.698,0.35],[0.707,1.6],[0.708,1.35],[0.707,1.1],[0.708,0.85],[0.707,0.6],[0.708,0.35],[0.707,0.1],[0.717,1.45],[0.718,1.1],[0.717,0.8],[0.718,0.5],[0.727,1.3],[0.728,0.95],[0.727,0.6],
[0.748,1.5],[0.749,1.2],[0.748,0.95],[0.749,0.7],[0.748,0.45],[0.749,0.2],[0.758,1.6],[0.759,1.35],[0.758,1.1],[0.759,0.85],[0.758,0.6],[0.759,0.35],[0.758,0.1],[0.768,1.45],[0.769,1.2],[0.768,1.0],[0.769,0.8],[0.768,0.6],[0.769,0.4],[0.768,0.15],[0.778,1.35],[0.779,1.1],[0.778,0.9],[0.779,0.7],[0.778,0.5],[0.778,0.25],[0.788,1.25],[0.789,0.95],[0.788,0.7],[0.789,0.45],[0.798,1.3],[0.799,1.0],[0.798,0.75],[0.799,0.45],[0.808,1.15],[0.809,0.85],[0.808,0.55],
[0.828,1.4],[0.829,1.1],[0.828,0.85],[0.829,0.6],[0.828,0.35],[0.838,1.5],[0.839,1.2],[0.838,0.95],[0.839,0.75],[0.838,0.55],[0.839,0.3],[0.848,1.35],[0.849,1.05],[0.848,0.85],[0.849,0.65],[0.848,0.45],[0.849,0.25],[0.858,1.4],[0.859,1.1],[0.858,0.9],[0.859,0.7],[0.858,0.5],[0.859,0.3],[0.868,1.25],[0.869,1.0],[0.868,0.8],[0.869,0.6],[0.868,0.4],[0.878,1.3],[0.879,1.0],[0.878,0.75],[0.879,0.55],[0.888,1.35],[0.889,1.05],[0.888,0.85],[0.889,0.65],[0.898,1.15],[0.899,0.9],[0.898,0.7],[0.908,1.05],[0.909,0.8],[0.918,1.0],[0.919,0.7],[0.928,0.85]
];

// ---- XELGs, coloured by redshift slice: [z, M] ----
var magPurple = [[0.113,-15.55],[0.122,-16.53],[0.119,-16.41],[0.125,-16.21],[0.109,-17.39],[0.126,-17.46],[0.132,-17.53],[0.123,-17.13],[0.134,-18.65],[0.155,-17.21],[0.166,-16.84],[0.165,-17.66],[0.170,-17.39],[0.170,-17.23],[0.185,-17.46],[0.200,-17.19],[0.173,-18.19],[0.189,-18.26],[0.185,-18.71],[0.188,-18.69],[0.209,-18.46],[0.218,-18.56],[0.219,-18.46],[0.230,-18.11],[0.215,-17.86],[0.219,-17.56],[0.230,-17.66],[0.225,-16.89],[0.249,-19.80],[0.265,-19.86],[0.249,-18.89],[0.260,-18.79],[0.259,-18.51],[0.246,-18.29],[0.250,-17.79],[0.252,-17.59],[0.265,-17.66],[0.275,-17.79],[0.246,-17.14]];
var magGreen = [[0.312,-21.27],[0.383,-20.72],[0.401,-20.59],[0.380,-20.45],[0.419,-20.22],[0.433,-20.07],[0.361,-20.12],[0.353,-19.97],[0.320,-19.74],[0.312,-19.46],[0.340,-19.49],[0.353,-19.34],[0.359,-19.33],[0.350,-19.03],[0.374,-18.91],[0.380,-18.97],[0.404,-19.64],[0.407,-19.62],[0.300,-18.71],[0.329,-18.61],[0.336,-18.63],[0.343,-18.41],[0.321,-18.29],[0.470,-20.52],[0.480,-20.60],[0.430,-20.12],[0.442,-20.10],[0.446,-20.12],[0.439,-19.40],[0.479,-19.67],[0.471,-19.40],[0.476,-19.31],[0.480,-19.23],[0.491,-19.23],[0.436,-19.06],[0.439,-18.96],[0.463,-18.91],[0.480,-19.04],[0.426,-18.93]];
var magOrange = [[0.501,-18.91],[0.504,-18.96],[0.501,-20.40],[0.506,-21.00],[0.530,-20.84],[0.527,-20.65],[0.538,-19.97],[0.556,-20.07],[0.538,-19.71],[0.545,-19.43],[0.563,-19.67],[0.568,-19.94],[0.578,-20.10],[0.572,-19.77],[0.573,-19.71],[0.566,-19.59],[0.595,-20.17],[0.595,-19.89],[0.594,-20.44],[0.591,-21.50],[0.609,-21.30],[0.601,-21.02],[0.604,-20.94],[0.610,-20.70],[0.620,-20.77],[0.618,-20.37],[0.634,-20.32],[0.632,-20.22],[0.640,-20.17],[0.645,-20.07],[0.643,-21.37],[0.645,-20.77],[0.675,-21.67],[0.669,-20.97],[0.687,-21.12],[0.678,-20.77],[0.677,-20.55],[0.665,-20.40],[0.697,-20.42],[0.690,-20.19],[0.693,-20.24]];
var magRed = [[0.727,-21.04],[0.746,-20.79],[0.764,-20.85],[0.722,-20.57],[0.733,-20.47],[0.724,-20.32],[0.749,-20.44],[0.752,-20.39],[0.759,-20.52],[0.761,-20.67],[0.757,-20.34],[0.764,-20.42],[0.743,-20.50],[0.777,-20.35],[0.795,-20.82],[0.810,-20.75],[0.816,-20.72],[0.813,-20.65],[0.820,-20.42],[0.836,-20.79],[0.840,-20.82],[0.838,-21.17],[0.848,-21.07],[0.850,-20.82],[0.867,-20.77],[0.836,-21.77],[0.850,-21.84],[0.860,-21.80],[0.851,-21.54],[0.881,-21.07],[0.888,-21.07],[0.906,-21.57],[0.911,-21.24]];

// ---- XELGs: [z, log EW] ----
var ewPurple = [[0.119,3.37],[0.119,3.04],[0.108,2.57],[0.129,2.56],[0.149,2.55],[0.171,2.49],[0.189,2.60],[0.190,2.45],[0.200,2.39],[0.129,2.33],[0.126,2.26],[0.108,2.17],[0.119,2.12],[0.168,2.33],[0.171,2.17],[0.179,2.03],[0.186,2.24],[0.191,2.21],[0.170,2.22],[0.209,2.04],[0.218,2.11],[0.221,2.22],[0.230,2.37],[0.231,2.22],[0.224,2.08],[0.249,2.82],[0.251,2.67],[0.261,2.71],[0.251,2.60],[0.249,2.44],[0.270,2.55],[0.251,2.09],[0.260,2.27],[0.259,2.20],[0.280,2.21],[0.115,2.29],[0.117,2.17]];
var ewGreen = [[0.399,3.00],[0.479,2.88],[0.468,2.75],[0.438,2.60],[0.426,2.53],[0.419,2.43],[0.399,2.37],[0.408,2.27],[0.379,2.58],[0.379,2.30],[0.379,2.06],[0.408,2.11],[0.427,2.06],[0.439,2.08],[0.438,2.21],[0.450,2.26],[0.459,2.51],[0.468,2.37],[0.477,2.48],[0.480,2.32],[0.471,2.26],[0.479,2.05],[0.479,2.00],[0.489,2.45],[0.309,2.53],[0.300,2.33],[0.339,2.42],[0.349,2.53],[0.359,2.49],[0.340,2.27],[0.349,2.25],[0.309,2.14],[0.320,2.14],[0.330,2.15],[0.340,2.15],[0.347,2.16],[0.356,2.19],[0.362,2.16],[0.369,2.16],[0.374,2.12]];
var ewOrange = [[0.498,2.89],[0.505,2.73],[0.500,2.45],[0.500,2.18],[0.579,3.01],[0.598,2.97],[0.538,2.77],[0.513,2.73],[0.539,2.54],[0.529,2.43],[0.529,2.27],[0.548,2.28],[0.560,2.53],[0.569,2.40],[0.569,2.33],[0.560,2.21],[0.567,2.21],[0.589,2.24],[0.597,2.24],[0.601,2.22],[0.589,2.16],[0.610,2.17],[0.598,2.60],[0.609,2.60],[0.609,2.46],[0.619,2.46],[0.619,2.39],[0.629,2.28],[0.639,2.39],[0.648,2.35],[0.649,2.18],[0.629,2.08],[0.639,1.96],[0.669,2.09],[0.678,2.08],[0.690,2.05],[0.678,2.28],[0.678,2.24],[0.690,2.48],[0.689,2.35],[0.697,2.24]];
var ewRed = [[0.729,2.80],[0.729,2.56],[0.729,2.34],[0.740,2.43],[0.749,2.48],[0.759,2.43],[0.717,2.24],[0.728,2.20],[0.749,2.22],[0.759,2.26],[0.760,2.20],[0.759,2.09],[0.769,2.62],[0.779,2.49],[0.799,2.67],[0.819,2.45],[0.819,2.39],[0.819,2.34],[0.809,2.24],[0.817,2.20],[0.799,2.07],[0.839,2.63],[0.849,2.63],[0.839,2.48],[0.849,2.50],[0.839,2.17],[0.849,2.09],[0.849,2.05],[0.839,2.02],[0.859,1.95],[0.868,2.24],[0.889,2.18],[0.878,2.03],[0.909,2.65],[0.909,2.34]];

var FONT = 'DejaVu Sans';
var FILL = '#ffb900', EDGE = '#ff7a00';

function stepV(edges, vals) {
    var pts = [[edges[0], 0]];
    for (var i = 0; i < vals.length; i++) pts.push([edges[i], vals[i]], [edges[i + 1], vals[i]]);
    pts.push([edges[edges.length - 1], 0]);
    return pts;
}
function stepH(edges, vals) {
    return stepV(edges, vals).map(function (p) { return [p[1], p[0]]; });
}
function bins(edges, vals) {
    return vals.map(function (v, i) { return [edges[i], edges[i + 1], v]; });
}
function minus(v) { return String(v).replace('-', '\u2212'); }

var line = { color: '#000', width: 1.3 };
function xAx(grid, pos, min, max, interval, minor, labels) {
    return {
        type: 'value', gridIndex: grid, position: pos, min: min, max: max, interval: interval,
        splitLine: { show: false },
        axisLine: { show: true, onZero: false, lineStyle: line },
        axisTick: { show: true, inside: true, length: minor ? 11 : 7, lineStyle: { color: '#000', width: 1.2 } },
        minorTick: { show: minor, splitNumber: 4, length: 6, lineStyle: { color: '#000', width: 1 } },
        axisLabel: labels ? { show: true, color: '#000', fontFamily: FONT, fontSize: 25, margin: 20,
            formatter: function (v) { return v > 1.001 ? '' : v.toFixed(1); } } : { show: false }
    };
}
function yPair(grid, pos, min, max, inverse, majors, minors, labels) {
    var base = { type: 'value', gridIndex: grid, position: pos, min: min, max: max, inverse: inverse, splitLine: { show: false } };
    return [
        Object.assign({}, base, {
            axisLine: { show: true, onZero: false, lineStyle: line },
            axisTick: { show: true, inside: true, length: 11, customValues: majors, lineStyle: { color: '#000', width: 1.2 } },
            axisLabel: { show: labels, customValues: majors, formatter: minus, color: '#000', fontFamily: FONT, fontSize: 25, margin: 9 }
        }),
        Object.assign({}, base, {
            axisLine: { show: false },
            axisTick: { show: true, inside: true, length: 6, customValues: minors, lineStyle: { color: '#000', width: 1 } },
            axisLabel: { show: false }
        })
    ];
}

// right-hand panels: 100 px per unit, canvas edge at 1.02
var xAxes = [
    xAx(0, 'bottom', 0, 1, 0.2, true, false),
    xAx(0, 'top', 0, 1, 0.2, true, false),
    xAx(1, 'bottom', 0, 1, 0.2, true, false),
    xAx(1, 'top', 0, 1, 0.2, true, false),
    xAx(2, 'bottom', 0, 1, 0.2, true, true),
    xAx(2, 'top', 0, 1, 0.2, true, false),
    xAx(3, 'bottom', 0, 1.02, 0.2, false, false),
    xAx(3, 'top', 0, 1.02, 0.2, false, false),
    xAx(4, 'bottom', 0, 1.02, 0.2, false, false),
    xAx(4, 'top', 0, 1.02, 0.2, false, false)
];
xAxes[4].name = 'redshift';
xAxes[4].nameLocation = 'middle';
xAxes[4].nameGap = 54;
xAxes[4].nameTextStyle = { color: '#000', fontFamily: FONT, fontSize: 26 };

var topY = function (pos, labels) {
    return {
        type: 'value', gridIndex: 0, position: pos, min: 0, max: 1, interval: 0.2,
        splitLine: { show: false },
        axisLine: { show: true, onZero: false, lineStyle: line },
        axisTick: { show: true, inside: true, length: 11, lineStyle: { color: '#000', width: 1.2 } },
        minorTick: { show: true, splitNumber: 4, length: 6, lineStyle: { color: '#000', width: 1 } },
        axisLabel: { show: labels, color: '#000', fontFamily: FONT, fontSize: 25, margin: 9,
            verticalAlign: 'top', lineHeight: 17,
            formatter: function (v) { return Math.abs(v - 1) < 1e-6 ? '1.0' : ''; } }
    };
};
var sideY = function (grid, min, max, inverse) {
    return {
        type: 'value', gridIndex: grid, position: 'left', min: min, max: max, inverse: inverse,
        splitLine: { show: false },
        axisLine: { show: true, onZero: false, lineStyle: { color: '#000', width: 2.2 } },
        axisTick: { show: false }, axisLabel: { show: false }
    };
};

var yAxes = [topY('left', true), topY('right', false)]
    .concat(yPair(1, 'left', -23.9, -13.8, true, mMajor, mMinor, true))    // 2,3
    .concat(yPair(1, 'right', -23.9, -13.8, true, mMajor, mMinor, false))  // 4,5
    .concat(yPair(2, 'left', -1, 3.9, false, ewMajor, ewMinor, true))      // 6,7
    .concat(yPair(2, 'right', -1, 3.9, false, ewMajor, ewMinor, false))    // 8,9
    .concat([sideY(3, -23.9, -13.8, true), sideY(4, -1, 3.9, false)]);     // 10,11

function fillV(params, api) {
    var a = api.coord([api.value(0), 0]);
    var b = api.coord([api.value(1), api.value(2)]);
    return { type: 'rect', shape: { x: a[0], y: b[1], width: b[0] - a[0], height: a[1] - b[1] },
        style: { fill: FILL, stroke: FILL, lineWidth: 1 } };
}
function fillH(params, api) {
    var a = api.coord([0, api.value(0)]);
    var b = api.coord([api.value(2), api.value(1)]);
    return { type: 'rect', shape: { x: a[0], y: Math.min(a[1], b[1]), width: b[0] - a[0], height: Math.abs(b[1] - a[1]) },
        style: { fill: FILL, stroke: FILL, lineWidth: 1 } };
}
function stepLine(xi, yi, pts, color, w) {
    return { type: 'line', xAxisIndex: xi, yAxisIndex: yi, data: pts, showSymbol: false, silent: true,
        lineStyle: { color: color, width: w }, animation: false };
}
function dots(xi, yi, data, color) {
    return { type: 'scatter', xAxisIndex: xi, yAxisIndex: yi, data: data, symbolSize: 10.5,
        itemStyle: { color: color, borderColor: '#000', borderWidth: 1, opacity: 1 }, animation: false };
}
function grey(xi, yi, data) {
    return { type: 'scatter', xAxisIndex: xi, yAxisIndex: yi, data: data, symbolSize: 3.6,
        itemStyle: { color: '#9a9a9a', opacity: 1 }, animation: false, silent: true };
}

var PURPLE = '#4000d0', GREEN = '#14f014', ORANGE = '#ff7000', RED = '#f00000';

var bottomGrey = grey(4, 6, greyEw.concat(greyEwCore));
bottomGrey.markLine = { silent: true, symbol: 'none', label: { show: false }, animation: false,
    lineStyle: { color: '#333', width: 1.5, type: 'solid' }, data: [{ yAxis: 2 }] };

var chart = echarts.init(document.getElementById('chart'));
chart.setOption({
    backgroundColor: '#fff',
    animation: false,
    grid: [
        { left: 132, top: 11.5, width: 565, height: 95.8 },
        { left: 132, top: 107.3, width: 565, height: 336 },
        { left: 132, top: 443.3, width: 565, height: 336 },
        { left: 697, top: 107.3, width: 102, height: 336 },
        { left: 697, top: 443.3, width: 102, height: 336 }
    ],
    xAxis: xAxes,
    yAxis: yAxes,
    graphic: [
        { type: 'rect', shape: { x: 0, y: 0, width: 78, height: 5 }, style: { fill: '#d4d4d4' } },
        { type: 'text', x: 31, y: 279, rotation: Math.PI / 2,
          style: { text: '{n|M}{s|B,0}{n| \u2212 5 log(h}{s|70}{n|)}', align: 'center', verticalAlign: 'middle', fill: '#000',
            rich: { n: { fontFamily: FONT, fontSize: 27, lineHeight: 34, verticalAlign: 'middle' },
                    s: { fontFamily: FONT, fontSize: 16, lineHeight: 18, verticalAlign: 'bottom' } } } },
        { type: 'text', x: 31, y: 610, rotation: Math.PI / 2,
          style: { text: 'log EW([OIII]5007)', align: 'center', verticalAlign: 'middle', fill: '#000', fontFamily: FONT, fontSize: 27 } },
        { type: 'text', x: 210, y: 416, z: 100,
          style: { text: 'A sample of 183 XELGs', align: 'left', verticalAlign: 'middle', fill: '#000', fontFamily: 'Lato', fontSize: 44 } }
    ],
    series: [
        { type: 'custom', xAxisIndex: 0, yAxisIndex: 0, data: bins(zEdgesX, zHistXelg), renderItem: fillV, silent: true, animation: false },
        stepLine(0, 0, stepV(zEdgesX, zHistXelg), EDGE, 1.2),
        stepLine(0, 0, stepV(zEdges, zHistAll), '#000', 1.4),

        grey(2, 2, greyMag.concat(greyMagCore)),
        dots(2, 2, magPurple, PURPLE),
        dots(2, 2, magGreen, GREEN),
        dots(2, 2, magOrange, ORANGE),
        dots(2, 2, magRed, RED),

        bottomGrey,
        dots(4, 6, ewPurple, PURPLE),
        dots(4, 6, ewGreen, GREEN),
        dots(4, 6, ewOrange, ORANGE),
        dots(4, 6, ewRed, RED),

        { type: 'custom', xAxisIndex: 6, yAxisIndex: 10, data: bins(mEdgesX, mHistXelg), renderItem: fillH, silent: true, animation: false },
        stepLine(6, 10, stepH(mEdgesX, mHistXelg), EDGE, 1.2),
        stepLine(6, 10, stepH(mEdges, mHistAll), '#000', 1.4),

        { type: 'custom', xAxisIndex: 8, yAxisIndex: 11, data: bins(ewEdgesX, ewHistXelg), renderItem: fillH, silent: true, animation: false },
        stepLine(8, 11, stepH(ewEdgesX, ewHistXelg), EDGE, 1.2),
        stepLine(8, 11, stepH(ewEdges, ewHistAll), '#000', 1.4)
    ]
});
</script>
</body>
</html>
